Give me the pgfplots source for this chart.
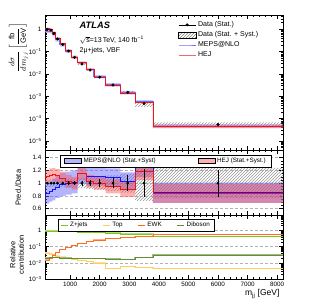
\documentclass[border=0pt]{standalone}
\usepackage{pgfplots}
\pgfplotsset{compat=1.18}
\usepackage{pgfplotstable}
\usepgfplotslibrary{fillbetween}
\usetikzlibrary{patterns}
\usepackage{fontspec}
\setmainfont{Liberation Sans}
\setsansfont{Liberation Sans}

\definecolor{mepsL}{RGB}{110,110,255}
\definecolor{mepsB}{RGB}{90,90,255}
\definecolor{mepsD}{RGB}{20,20,255}
\definecolor{hejL}{RGB}{255,100,100}
\definecolor{hejB}{RGB}{255,80,80}
\definecolor{hejD}{RGB}{240,20,20}
\definecolor{zjC}{RGB}{120,200,30}
\definecolor{topC}{RGB}{255,205,90}
\definecolor{ewkC}{RGB}{255,110,30}
\definecolor{dibC}{RGB}{100,140,50}

% ratio / composition table (left bin edges, last row = right edge)
\pgfplotstableread{
xl   xc   m    mu   h    hu   ds   dt   zj   ewk   top    dib
150  225  0.84 0.16 1.10 0.10 0.02 0.06 0.95 0.015 0.040  0.020
300  350  0.87 0.16 1.13 0.10 0.02 0.06 0.94 0.020 0.035  0.021
400  450  0.90 0.17 1.14 0.10 0.02 0.06 0.93 0.030 0.030  0.021
500  575  0.94 0.17 1.12 0.10 0.02 0.06 0.92 0.045 0.027  0.021
650  750  0.98 0.18 1.08 0.10 0.02 0.06 0.90 0.065 0.023  0.020
850  950  1.00 0.18 1.03 0.10 0.03 0.07 0.88 0.090 0.020  0.020
1050 1150 1.02 0.18 1.00 0.10 0.03 0.07 0.85 0.120 0.017  0.019
1250 1400 1.15 0.16 1.15 0.10 0.04 0.08 0.82 0.160 0.014  0.019
1550 1675 1.10 0.14 1.03 0.10 0.05 0.09 0.78 0.210 0.012  0.018
1800 2000 1.10 0.14 1.00 0.10 0.06 0.10 0.74 0.260 0.010  0.018
2200 2450 1.09 0.14 0.95 0.11 0.08 0.12 0.68 0.320 0.0045 0.017
2700 2950 1.03 0.14 0.90 0.12 0.12 0.15 0.62 0.380 0.0058 0.016
3200 3500 1.26 0.16 1.18 0.13 0.22 0.28 0.60 0.420 0.0050 0.021
3800 6000 0.85 0.16 0.84 0.15 0.21 0.24 0.44 0.560 0.0045 0.031
8200 6000 0.85 0.16 0.84 0.15 0.21 0.24 0.44 0.560 0.0045 0.031
}\ratio

% absolute cross sections [fb/GeV]
\pgfplotstableread{
xl   xc   d         dU         dL         mc         mU         mL         hc         hU         hL
150  225  1.0       1.06       0.94       0.84       1.00       0.68       1.10       1.20       1.00
300  350  0.92      0.9752     0.8648     0.8004     0.9476     0.6532     1.0396     1.1316     0.9476
400  450  0.66      0.6996     0.6204     0.594      0.7062     0.4818     0.7524     0.8184     0.6864
500  575  0.37      0.3922     0.3478     0.3478     0.4107     0.2849     0.4144     0.4514     0.3774
650  750  0.21      0.2226     0.1974     0.2058     0.2436     0.168      0.2268     0.2478     0.2058
850  950  0.107     0.11449    0.09951    0.107      0.12626    0.08774    0.11021    0.12091    0.09951
1050 1150 0.056     0.05992    0.05208    0.05712    0.0672     0.04704    0.056      0.0616     0.0504
1250 1400 0.028     0.03024    0.02576    0.0322     0.03668    0.02772    0.0322     0.035      0.0294
1550 1675 0.015     0.01635    0.01365    0.0165     0.0186     0.0144     0.01545    0.01695    0.01395
1800 2000 0.0072    0.00792    0.00648    0.00792    0.008928   0.006912   0.0072     0.00792    0.00648
2200 2450 0.0032    0.003584   0.002816   0.003488   0.003936   0.00304    0.00304    0.003392   0.002688
2700 2950 0.0015    0.001725   0.001275   0.001545   0.001755   0.001335   0.00135    0.00153    0.00117
3200 3500 0.00047   0.0006016  0.0003384  0.0005922  0.0006674  0.000517   0.0005546  0.0006157  0.0004935
3800 6000 0.000054  0.00006696 0.00004104 0.0000459  0.00005454 0.00003726 0.00004536 0.00005346 0.00003726
8200 6000 0.000054  0.00006696 0.00004104 0.0000459  0.00005454 0.00003726 0.00004536 0.00005346 0.00003726
}\xsec

\pgfplotsset{
  atlas/.style={
    scale only axis, width=238pt, xmin=150, xmax=8200,
    anchor=north west,
    tick align=inside, xtick pos=both, ytick pos=both,
    xticklabel pos=lower, yticklabel pos=left,
    major tick length=4pt, minor tick length=2pt,
    tick style={black, line width=0.4pt},
    xtick={1000,2000,...,8000}, minor x tick num=4,
    tick label style={font=\fontsize{6.3}{7}\selectfont},
    /pgf/number format/assume math mode=true,
    /pgf/number format/1000 sep={},
    axis line style={line width=0.5pt},
    label style={font=\fontsize{7.5}{8.5}\selectfont},
  },
  logticks/.style={
    yticklabel={\pgfmathtruncatemacro\ex{round(\tick/2.302585)}\ifnum\ex=0 1\else\ifnum\ex<0 10\textsuperscript{−\number-\ex}\else 10\textsuperscript{\ex}\fi\fi},
  },
}

\begin{document}
\begin{tikzpicture}

% ---------------- top panel ----------------
\begin{axis}[atlas, at={(45pt,-15pt)}, height=135pt, ymode=log, ymin=3.9e-6, ymax=4.4,
  xticklabels={}, logticks,
  ytick={1e-5,1e-4,1e-3,1e-2,1e-1,1},
  minor ytick={4e-6,5e-6,6e-6,7e-6,8e-6,9e-6,
    2e-5,3e-5,4e-5,5e-5,6e-5,7e-5,8e-5,9e-5,
    2e-4,3e-4,4e-4,5e-4,6e-4,7e-4,8e-4,9e-4,
    2e-3,3e-3,4e-3,5e-3,6e-3,7e-3,8e-3,9e-3,
    2e-2,3e-2,4e-2,5e-2,6e-2,7e-2,8e-2,9e-2,
    0.2,0.3,0.4,0.5,0.6,0.7,0.8,0.9,2,3,4},
  ylabel={$\displaystyle\frac{d\sigma}{dm_{jj}}\left[\frac{\mathrm{fb}}{\mathrm{GeV}}\right]$},
  ylabel style={at={(axis description cs:-0.112,0.97)}, anchor=east, font=\fontsize{7.6}{8.5}\selectfont},
  legend style={at={(axis description cs:0.555,0.975)}, anchor=north west, draw=none, fill=none,
    font=\fontsize{7}{8}\selectfont, row sep=-0.5pt, inner sep=1pt},
  legend cell align=left,
]
\addplot[name path=dU, const plot, draw=none, forget plot] table[x=xl, y=dU]{\xsec};
\addplot[name path=dL, const plot, draw=none, forget plot] table[x=xl, y=dL]{\xsec};
\addplot[pattern=north east lines, pattern color=gray!80, forget plot] fill between[of=dU and dL];

\addplot[name path=mU, const plot, draw=none, forget plot] table[x=xl, y=mU]{\xsec};
\addplot[name path=mL, const plot, draw=none, forget plot] table[x=xl, y=mL]{\xsec};
\addplot[fill=mepsB, fill opacity=0.35, draw=none, forget plot] fill between[of=mU and mL];

\addplot[name path=hU, const plot, draw=none, forget plot] table[x=xl, y=hU]{\xsec};
\addplot[name path=hL, const plot, draw=none, forget plot] table[x=xl, y=hL]{\xsec};
\addplot[fill=hejB, fill opacity=0.35, draw=none, forget plot] fill between[of=hU and hL];

\addplot[const plot, mepsL, line width=0.6pt, forget plot] table[x=xl, y=mc]{\xsec};
\addplot[const plot, hejD, line width=0.5pt, forget plot] table[x=xl, y=hc]{\xsec};

\addplot[only marks, mark=*, mark size=1.3pt, black, forget plot, skip coords between index={14}{15}] table[x=xc, y=d]{\xsec};

\addlegendimage{legend image code/.code={\draw[black, line width=0.6pt] (0pt,0pt) -- (17pt,0pt); \fill[black] (8.5pt,0pt) circle (1.3pt);}}
\addlegendentry{Data (Stat.)}
\addlegendimage{area legend, pattern=north east lines, pattern color=gray, draw=none}
\addlegendentry{Data (Stat. + Syst.)}
\addlegendimage{mepsL, line width=0.8pt}
\addlegendentry{MEPS@NLO}
\addlegendimage{hejL, line width=0.8pt}
\addlegendentry{HEJ}

\node[anchor=west, inner sep=0pt, font=\fontsize{9.3}{10}\selectfont\bfseries\itshape] at (rel axis cs:0.145,0.922) {ATLAS};
\node[anchor=west, inner sep=0pt, font=\fontsize{7}{8}\selectfont] at (rel axis cs:0.145,0.815) {$\sqrt{\mbox{s}}$=13\,TeV, 140 fb\textsuperscript{−1}};
\node[anchor=west, inner sep=0pt, font=\fontsize{7}{8}\selectfont] at (rel axis cs:0.145,0.733) {2μ+jets, VBF};
\end{axis}

% ---------------- ratio panel ----------------
\begin{axis}[atlas, at={(45pt,-150pt)}, height=65pt, ymin=0.5, ymax=1.52,
  xticklabels={}, ytick={0.6,0.8,1,1.2,1.4}, minor y tick num=3,
  ymajorgrids, grid style={densely dashed, gray!60, line width=0.3pt},
  ylabel={Pred./Data},
  ylabel style={at={(axis description cs:-0.113,0.42)}, anchor=center},
  legend style={at={(axis description cs:0.063,0.93)}, anchor=north west, draw=black, fill=white,
    line width=0.4pt, font=\fontsize{6.3}{7}\selectfont, legend columns=2, inner sep=1pt, inner xsep=4pt,
    /tikz/every even column/.append style={column sep=40pt}},
  legend cell align=left,
]
\addplot[name path=rdU, const plot, draw=none, forget plot] table[x=xl, y expr=1+\thisrow{dt}]{\ratio};
\addplot[name path=rdL, const plot, draw=none, forget plot] table[x=xl, y expr=1-\thisrow{dt}]{\ratio};
\addplot[pattern=north east lines, pattern color=gray!80, forget plot] fill between[of=rdU and rdL];

\addplot[name path=rmU, const plot, draw=none, forget plot] table[x=xl, y expr=\thisrow{m}+\thisrow{mu}]{\ratio};
\addplot[name path=rmL, const plot, draw=none, forget plot] table[x=xl, y expr=\thisrow{m}-\thisrow{mu}]{\ratio};
\addplot[fill=mepsB, fill opacity=0.45, draw=none, forget plot] fill between[of=rmU and rmL];

\addplot[name path=rhU, const plot, draw=none, forget plot] table[x=xl, y expr=\thisrow{h}+\thisrow{hu}]{\ratio};
\addplot[name path=rhL, const plot, draw=none, forget plot] table[x=xl, y expr=\thisrow{h}-\thisrow{hu}]{\ratio};
\addplot[fill=hejB, fill opacity=0.45, draw=none, forget plot] fill between[of=rhU and rhL];

\addplot[const plot, mepsD, line width=0.6pt, forget plot] table[x=xl, y=m]{\ratio};
\addplot[const plot, hejD, line width=0.6pt, forget plot] table[x=xl, y=h]{\ratio};

\addplot[only marks, mark=*, mark size=1.2pt, black, forget plot, skip coords between index={14}{15},
  error bars/.cd, y dir=both, y explicit, error bar style={line width=0.6pt}, error mark=none]
  table[x=xc, y expr=1, y error=ds]{\ratio};

\addlegendimage{area legend, fill=mepsB, fill opacity=0.45, draw=none}
\addlegendentry{MEPS@NLO (Stat.+Syst)}
\addlegendimage{area legend, fill=hejB, fill opacity=0.45, draw=none}
\addlegendentry{HEJ (Stat.+Syst.)}
\end{axis}

% ---------------- composition panel ----------------
\begin{axis}[atlas, at={(45pt,-215pt)}, height=64pt, ymode=log, ymin=1e-3, ymax=9, logticks,
  ymajorgrids, grid style={densely dashed, gray!60, line width=0.3pt},
  xlabel={m\textsubscript{jj} [GeV]},
  xlabel style={at={(axis description cs:1,0)}, anchor=north east, yshift=-7pt, font=\fontsize{8.5}{9}\selectfont},
  ylabel={Relative\\contribution},
  ylabel style={align=center, at={(axis description cs:-0.118,0.38)}, anchor=center},
  legend style={at={(axis description cs:0.055,0.94)}, anchor=north west, draw=black, fill=white,
    line width=0.4pt, font=\fontsize{6.3}{7}\selectfont, legend columns=4, inner sep=1pt, inner xsep=2pt,
    /tikz/every even column/.append style={column sep=13pt}},
  legend image code/.code={\draw[#1, line width=0.9pt] (0pt,0pt) -- (7pt,0pt);},
  legend cell align=left,
]
\addplot[const plot, zjC!60, line width=1.4pt, forget plot] table[x=xl, y=zj]{\ratio};
\addplot[const plot, zjC, line width=0.6pt] table[x=xl, y=zj]{\ratio};
\addlegendentry{Z+jets}
\addplot[const plot, topC!60, line width=1.4pt, forget plot] table[x=xl, y=top]{\ratio};
\addplot[const plot, topC, line width=0.6pt] table[x=xl, y=top]{\ratio};
\addlegendentry{Top}
\addplot[const plot, ewkC!55, line width=1.4pt, forget plot] table[x=xl, y=ewk]{\ratio};
\addplot[const plot, ewkC, line width=0.6pt] table[x=xl, y=ewk]{\ratio};
\addlegendentry{EWK}
\addplot[const plot, dibC!60, line width=1.4pt, forget plot] table[x=xl, y=dib]{\ratio};
\addplot[const plot, dibC, line width=0.6pt] table[x=xl, y=dib]{\ratio};
\addlegendentry{Diboson}
\end{axis}

\pgfresetboundingbox
\path[use as bounding box] (0,0) rectangle (315pt,-302pt);
\end{tikzpicture}
\end{document}
